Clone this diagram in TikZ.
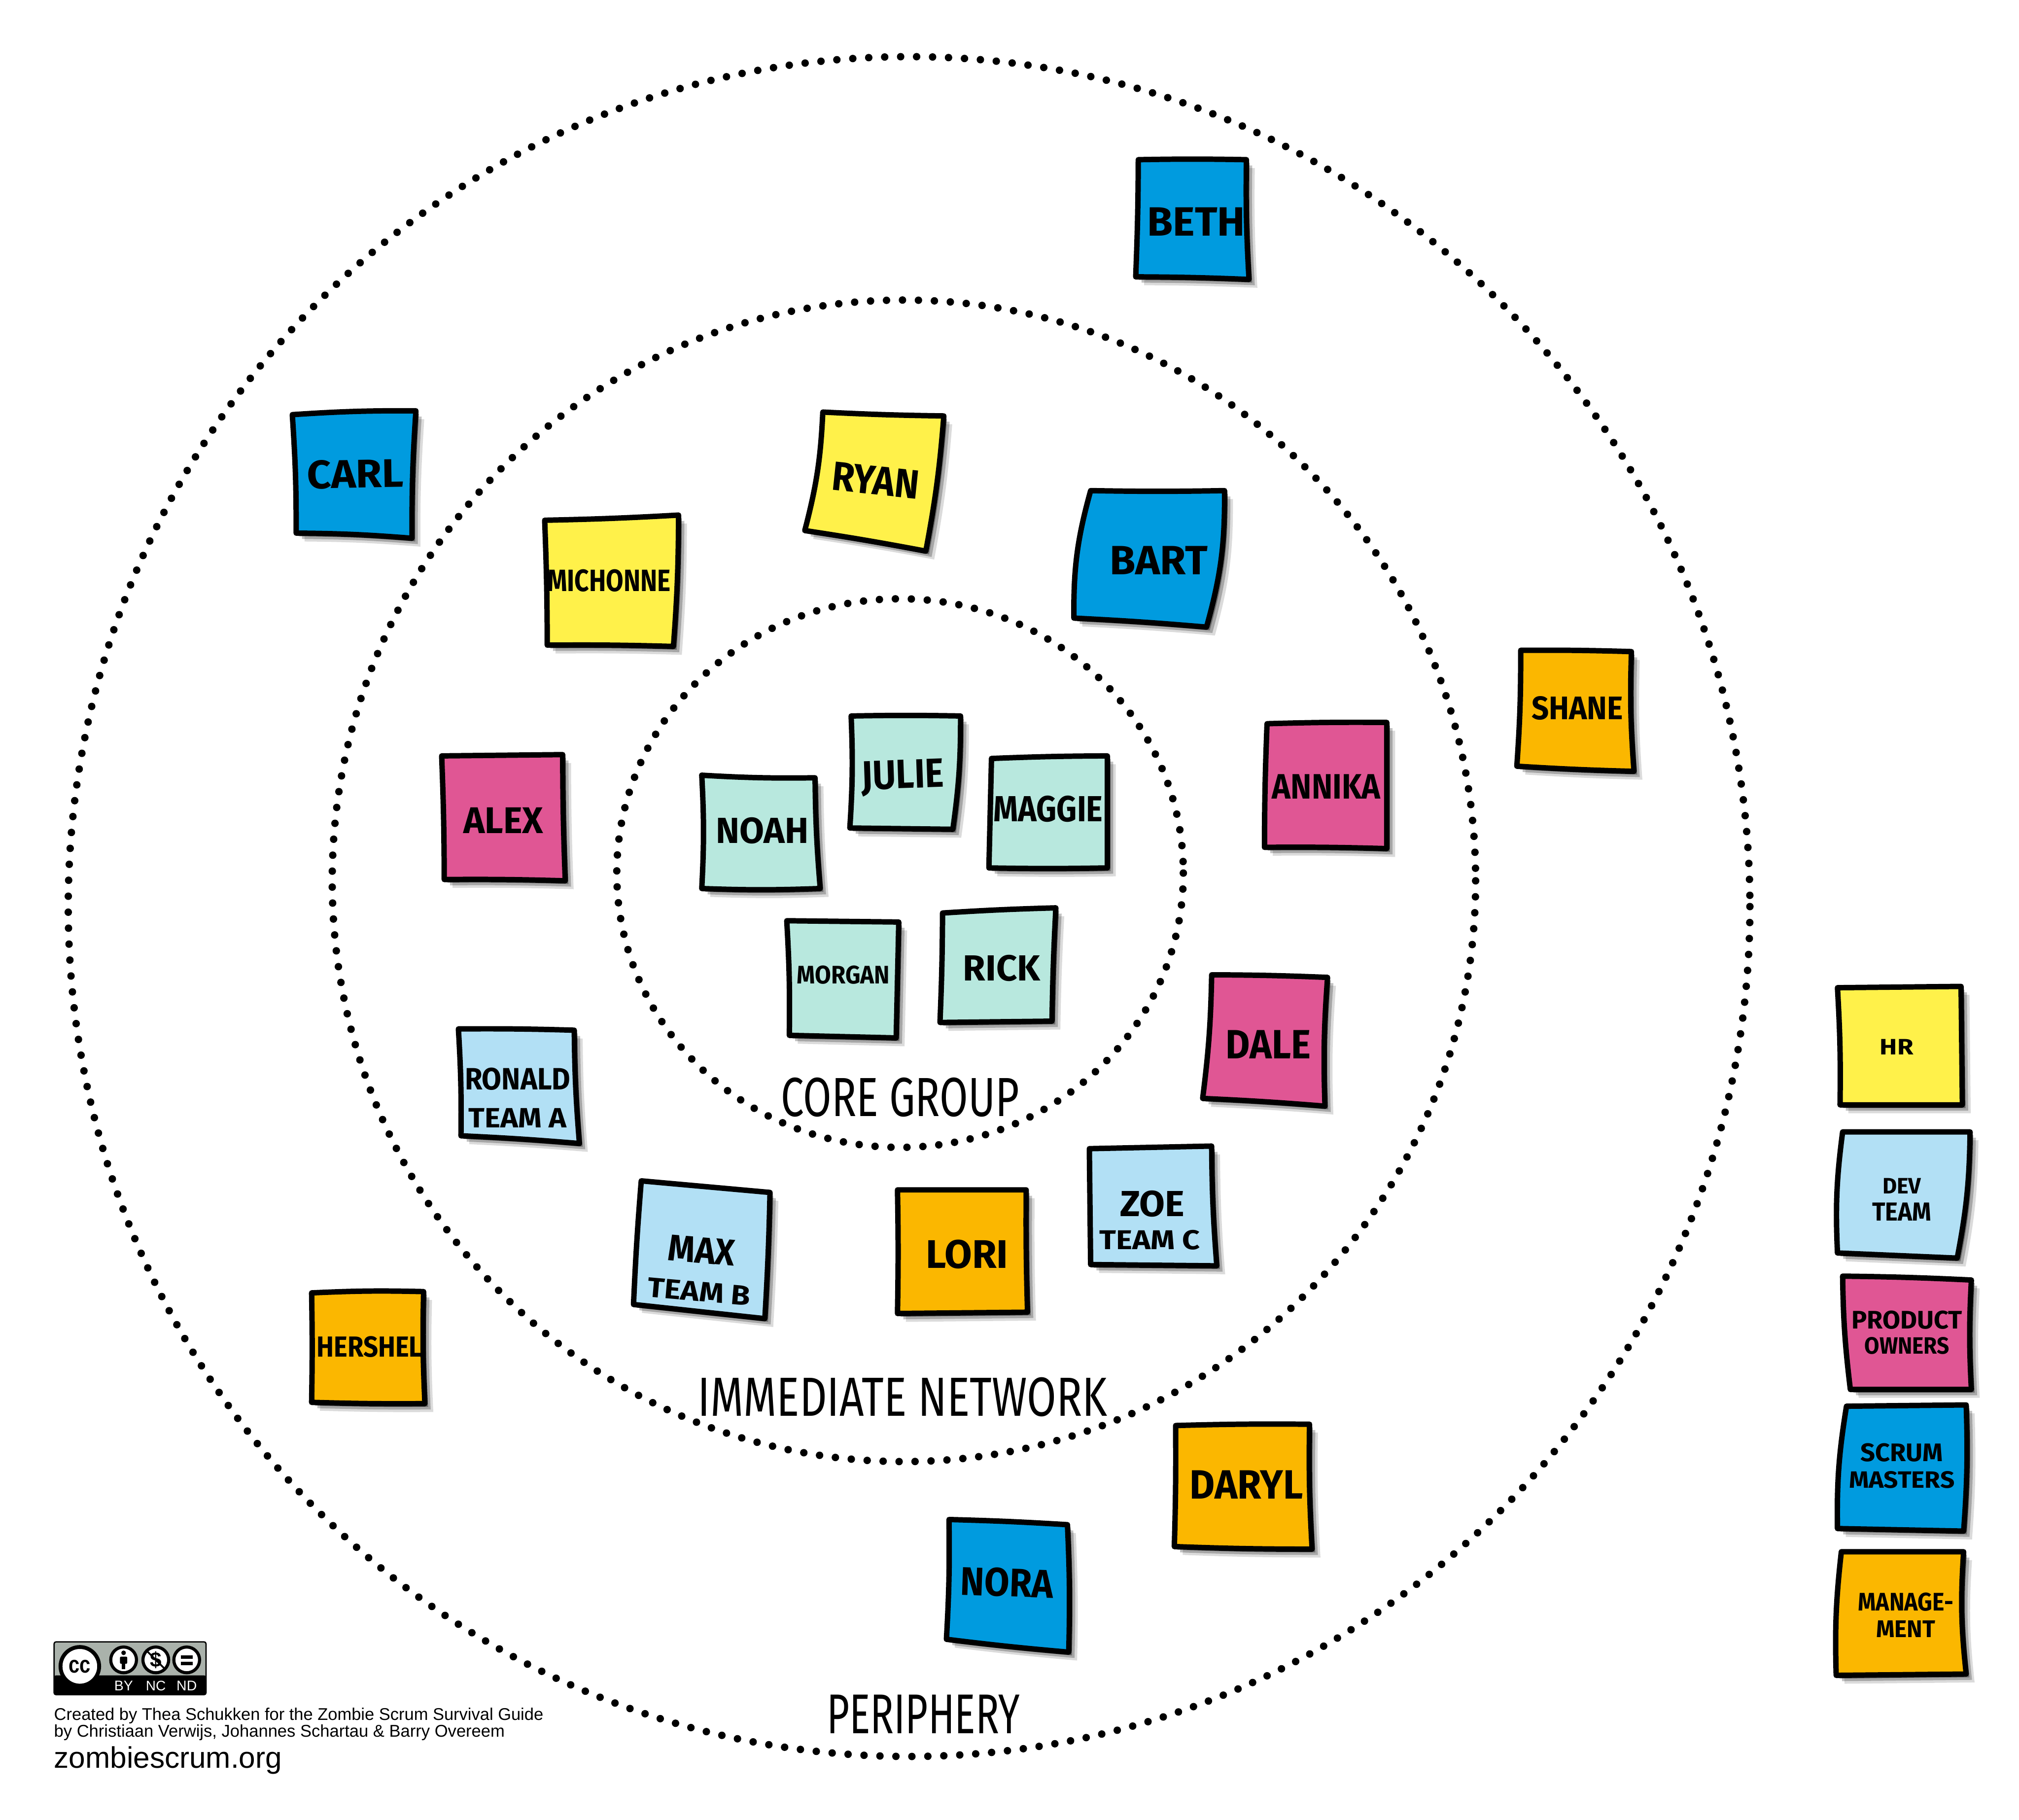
\documentclass[tikz,border=0pt]{standalone}
\usepackage{fontspec}
\setmainfont{Liberation Sans}
\newfontfamily\notefont{Fira Sans}
\newfontfamily\ringfont{Fira Sans}
\definecolor{nyellow}{HTML}{FFF14A}
\definecolor{nblue}{HTML}{009BDF}
\definecolor{npink}{HTML}{E05694}
\definecolor{nteal}{HTML}{B8E8DE}
\definecolor{nsky}{HTML}{B2E0F5}
\definecolor{norange}{HTML}{FBB700}
\definecolor{ccgray}{HTML}{AAB2AB}
\tikzset{
  ring/.style={line width=5.8pt,line cap=round,dash pattern=on 0pt off 12.4pt,black},
  lab/.style={inner sep=0pt,outer sep=0pt,text=black},
  paper/.style={draw=black,line width=4.2pt,line join=round,line cap=round},
  foot/.style={inner sep=0pt,outer sep=0pt,anchor=west,text=black},
  b/.style={bend left=#1}
}
% hand-lettered note text, stretched to a given width and cap height
\newcommand{\nt}[3]{\resizebox{#1pt}{#2pt}{\notefont\bfseries #3}}
\newcommand{\rt}[3]{\resizebox{#1pt}{#2pt}{\ringfont #3}}
% a sticky note: shadow, then paper
\newcommand{\stick}[2]{%
  \begin{scope}[shift={(6.5,6.5)}]\fill[black,opacity=.14] #2;\end{scope}
  \begin{scope}[shift={(4.5,4.5)}]\fill[black,opacity=.24] #2;\end{scope}
  \begin{scope}[shift={(2.5,2.5)}]\fill[black,opacity=.35] #2;\end{scope}
  \filldraw[paper,fill=#1] #2;}
\begin{document}
\begin{tikzpicture}[x=1pt,y=-1pt]
\useasboundingbox (0,0) rectangle (1568,1413);
\fill[white] (0,0) rectangle (1568,1413);

% rings
\draw[ring] (706,704) ellipse [x radius=653,y radius=660];
\draw[ring] (702,684) ellipse [x radius=444,y radius=451];
\draw[ring] (699,678) ellipse [x radius=220,y radius=213];

% ring labels
\node[lab] (core) at (699,852) {\rt{185}{30}{CORE GROUP}};
\node[lab] (imm) at (701,1085) {\rt{318}{30}{IMMEDIATE NETWORK}};
\node[lab] (peri) at (717,1331) {\rt{150}{30}{PERIPHERY}};

% periphery
\stick{nblue}{(884,124) to[b=1] (968,124) to[b=-2] (970,217) to[b=-1] (882,215) to[b=-1] cycle}
\node[lab] (beth) at (929,172) {\nt{76}{22}{BETH}};
\stick{nblue}{(227,322) to[b=2] (323,319) to[b=-2] (320,418) to[b=-2] (230,414) to[b=-2] cycle}
\node[lab,rotate=1] (carl) at (276,368) {\nt{75}{22}{CARL}};
\stick{norange}{(1181,505) to[b=1] (1267,506) to[b=-3] (1269,599) to[b=1] (1178,595) to[b=-2] cycle}
\node[lab] (shane) at (1225,550) {\nt{71}{18}{SHANE}};
\stick{norange}{(242,1004) to[b=2] (329,1003) to[b=-2] (330,1090) to[b=1] (242,1089) to[b=-1] cycle}
\node[lab] (hershel) at (287,1046) {\nt{82}{16}{HERSHEL}};
\stick{norange}{(913,1107) to[b=1] (1017,1106) to[b=-2] (1019,1203) to[b=1] (912,1201) to[b=-1] cycle}
\node[lab] (daryl) at (968,1153) {\nt{88}{22}{DARYL}};
\stick{nblue}{(737,1180) to[b=1] (829,1184) to[b=2] (830,1283) to[b=1] (735,1273) to[b=-2] cycle}
\node[lab,rotate=-2] (nora) at (782,1229) {\nt{72}{22}{NORA}};

% immediate network
\stick{nyellow}{(639,320) to[b=-1] (733,323) to[b=3] (719,428) to[b=-1] (625,412) to[b=-6] cycle}
\node[lab,rotate=-6] (ryan) at (680,373) {\nt{68}{22}{RYAN}};
\stick{nyellow}{(423,404) to[b=-1] (527,400) to[b=2] (523,502) to[b=-1] (425,501) to[b=-1] cycle}
\node[lab] (michonne) at (473,451) {\nt{96}{17}{MICHONNE}};
\stick{nblue}{(847,381) to[b=-1] (951,381) to[b=8] (937,487) to[b=-1] (834,480) to[b=8] cycle}
\node[lab] (bart) at (900,435) {\nt{76}{22}{BART}};
\stick{npink}{(984,562) to[b=1] (1077,561) to[b=0] (1077,659) to[b=-1] (982,658) to[b=1] cycle}
\node[lab] (annika) at (1030,611) {\nt{84}{19}{ANNIKA}};
\stick{npink}{(343,587) to[b=0] (437,586) to[b=-1] (439,684) to[b=-1] (345,683) to[b=-1] cycle}
\node[lab] (alex) at (391,637) {\nt{62}{20}{ALEX}};
\stick{npink}{(941,757) to[b=1] (1031,759) to[b=-3] (1029,859) to[b=-1] (934,853) to[b=-3] cycle}
\node[lab] (dale) at (985,811) {\nt{66}{22}{DALE}};
\stick{nsky}{(356,799) to[b=1] (446,800) to[b=-2] (450,888) to[b=-1] (358,882) to[b=-2] cycle}
\node[lab] (ronald) at (402,838) {\nt{82}{17}{RONALD}};
\node[lab] (teama) at (402,868) {\nt{76}{15}{TEAM A}};
\stick{nsky}{(498,917) to[b=0] (598,926) to[b=1] (594,1024) to[b=0] (492,1013) to[b=1] cycle}
\node[lab,rotate=-5] (max) at (545,971) {\nt{52}{20}{MAX}};
\node[lab,rotate=-5] (teamb) at (543,1003) {\nt{80}{15}{TEAM B}};
\stick{norange}{(697,924) to[b=0] (797,924) to[b=-1] (798,1019) to[b=0] (697,1020) to[b=-1] cycle}
\node[lab] (lori) at (751,974) {\nt{64}{22}{LORI}};
\stick{nsky}{(846,892) to[b=0] (941,890) to[b=-2] (945,983) to[b=0] (847,982) to[b=0] cycle}
\node[lab] (zoe) at (895,935) {\nt{50}{20}{ZOE}};
\node[lab] (teamc) at (893,963) {\nt{78}{15}{TEAM C}};

% core group
\stick{nteal}{(545,602) to[b=-2] (633,604) to[b=-2] (637,690) to[b=2] (545,690) to[b=-3] cycle}
\node[lab] (noah) at (592,645) {\nt{72}{20}{NOAH}};
\stick{nteal}{(661,556) to[b=1] (746,556) to[b=4] (740,644) to[b=0] (660,643) to[b=-3] cycle}
\node[lab,rotate=2] (julie) at (701,604) {\nt{64}{22}{JULIE}};
\stick{nteal}{(770,589) to[b=1] (860,587) to[b=0] (860,674) to[b=1] (768,674) to[b=0] cycle}
\node[lab] (maggie) at (814,628) {\nt{85}{20}{MAGGIE}};
\stick{nteal}{(611,715) to[b=0] (698,716) to[b=0] (696,806) to[b=0] (613,804) to[b=-2] cycle}
\node[lab] (morgan) at (655,757) {\nt{72}{14}{MORGAN}};
\stick{nteal}{(732,709) to[b=1] (820,705) to[b=-1] (817,793) to[b=0] (730,794) to[b=-1] cycle}
\node[lab] (rick) at (778,752) {\nt{60}{20}{RICK}};

% legend
\stick{nyellow}{(1427,767) to[b=0] (1523,766) to[b=0] (1524,858) to[b=0] (1429,858) to[b=-2] cycle}
\node[lab] (hr) at (1473,813) {\nt{26}{12}{HR}};
\stick{nsky}{(1431,879) to[b=0] (1530,879) to[b=5] (1520,977) to[b=0] (1427,973) to[b=5] cycle}
\node[lab] (dev) at (1477,921) {\nt{30}{12}{DEV}};
\node[lab] (team) at (1477,941) {\nt{46}{14}{TEAM}};
\stick{npink}{(1431,991) to[b=1] (1531,994) to[b=-3] (1531,1079) to[b=0] (1437,1079) to[b=3] cycle}
\node[lab] (product) at (1481,1025) {\nt{86}{14}{PRODUCT}};
\node[lab] (owners) at (1481,1045) {\nt{66}{13}{OWNERS}};
\stick{nblue}{(1434,1092) to[b=0] (1527,1091) to[b=3] (1525,1189) to[b=0] (1427,1187) to[b=5] cycle}
\node[lab] (scrum) at (1477,1128) {\nt{64}{14}{SCRUM}};
\node[lab] (masters) at (1477,1149) {\nt{82}{13}{MASTERS}};
\stick{norange}{(1430,1205) to[b=0] (1525,1205) to[b=-5] (1527,1300) to[b=0] (1426,1301) to[b=4] cycle}
\node[lab] (manage) at (1480,1244) {\nt{74}{14}{MANAGE-}};
\node[lab] (ment) at (1480,1265) {\nt{46}{13}{MENT}};

% licence badge
\fill[ccgray,rounded corners=1.5pt] (42,1275) rectangle (160,1316);
\draw[black,line width=1pt,rounded corners=1.5pt] (42,1275) rectangle (160,1316);
\fill[black,rounded corners=1.5pt] (42,1301) rectangle (160,1316);
\filldraw[fill=white,draw=black,line width=3pt] (62,1294) circle (15);
\node[lab] (cc) at (62,1294) {\resizebox{17pt}{10pt}{\bfseries cc}};
\filldraw[fill=white,draw=black,line width=2.4pt] (96,1289) circle (10);
\filldraw[fill=white,draw=black,line width=2.4pt] (121,1289) circle (10);
\filldraw[fill=white,draw=black,line width=2.4pt] (145,1289) circle (10);
\fill[black] (96,1283.5) circle (1.8);
\fill[black,rounded corners=.8pt] (93.2,1286.5) rectangle (98.8,1292);
\fill[black] (94.6,1291) rectangle (97.4,1296);
\node[lab] (dollar) at (121,1289) {\resizebox{!}{12pt}{\bfseries\$}};
\draw[black,line width=1.4pt] (114.5,1282.5) -- (127.5,1295.5);
\fill[black] (140.5,1285.5) rectangle (149.5,1288);
\fill[black] (140.5,1290.5) rectangle (149.5,1293);
\node[lab,text=white] (by) at (96,1309) {\resizebox{!}{7.5pt}{BY}};
\node[lab,text=white] (nc) at (121,1309) {\resizebox{!}{7.5pt}{NC}};
\node[lab,text=white] (nd) at (145,1309) {\resizebox{!}{7.5pt}{ND}};

% credits
\node[foot] (c1) at (42,1332.5) {\resizebox{380pt}{!}{Created by Thea Schukken for the Zombie Scrum Survival Guide}};
\node[foot] (c2) at (42,1345.5) {\resizebox{350pt}{!}{by Christiaan Verwijs, Johannes Schartau \& Barry Overeem}};
\node[foot] (c3) at (42,1367) {\resizebox{177pt}{!}{zombiescrum.org}};
\end{tikzpicture}
\end{document}
